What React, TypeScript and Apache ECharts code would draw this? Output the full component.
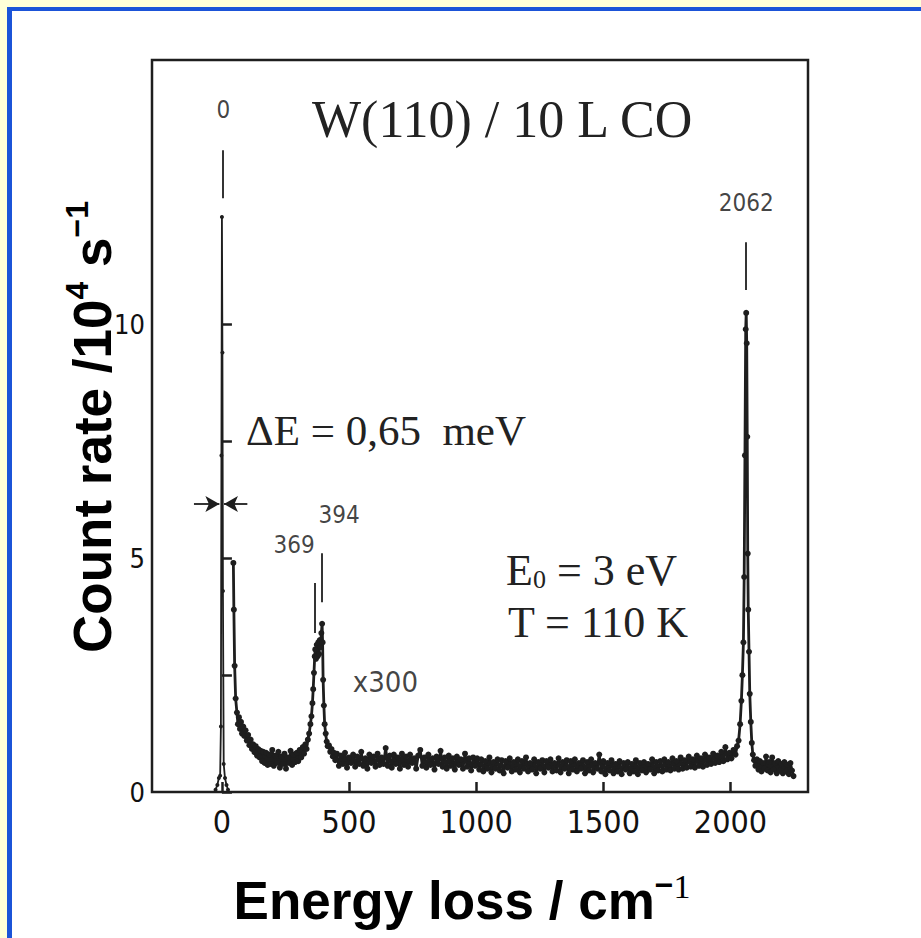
import React, { useEffect, useRef } from "react";
import * as echarts from "echarts";

// Elastic peak (unscaled)
const elasticPoints: [number, number][] = [
  [-25, 0.05], [-18, 0.15], [-12, 0.3], [-7, 0.35], [-4, 1.4], [-2, 7.2], [0, 12.3],
  [2, 9.4], [4, 4.3], [7, 0.6], [12, 0.3], [18, 0.15], [24, 0.05],
];

// Loss spectrum (x300)
const lossDecay: [number, number][] = [
  [45, 4.9], [47, 3.9], [50, 2.7], [54, 2.0], [59, 1.7], [63, 1.45], [67, 1.6], [71, 1.35], [75, 1.5], [79, 1.25],
  [84, 1.4], [88, 1.2], [93, 1.32], [98, 1.1], [103, 1.22], [108, 1.0], [113, 1.12], [118, 0.92], [123, 1.02], [128, 0.85],
  [133, 0.98], [138, 0.78], [143, 0.92], [148, 0.74], [153, 0.88], [158, 0.66], [163, 0.86], [168, 0.62],
  [174, 0.84], [180, 0.58], [186, 0.8], [192, 0.6], [198, 0.9], [204, 0.56], [210, 0.78], [216, 0.62], [222, 0.86], [228, 0.52],
  [234, 0.76], [240, 0.6], [246, 0.82], [252, 0.5], [258, 0.74], [264, 0.62], [270, 0.88], [276, 0.58], [282, 0.8], [288, 0.64],
  [294, 0.84], [300, 0.66], [306, 0.9], [312, 0.74], [318, 0.96], [323, 0.82], [328, 1.02], [333, 0.92], [338, 1.12], [343, 1.25],
];
const lossSubstrate: [number, number][] = [
  [348, 1.45], [352, 1.62], [356, 1.9], [359, 2.2], [362, 2.55], [365, 2.9], [367, 3.05], [370, 2.85], [373, 3.15], [376, 2.9],
  [379, 3.2], [382, 2.95], [385, 3.25], [388, 3.1], [391, 3.4], [394, 3.6], [396, 3.2], [398, 2.4], [401, 1.85], [404, 1.45],
  [408, 1.25], [412, 1.08], [416, 0.98], [421, 1.0], [426, 0.86], [431, 0.92], [436, 0.76], [441, 0.84], [446, 0.68],
];
const lossMid: [number, number][] = [
  [452, 0.82], [460, 0.56], [468, 0.78], [476, 0.6], [484, 0.84], [492, 0.52], [500, 0.74], [508, 0.62], [516, 0.8], [524, 0.54],
  [532, 0.76], [540, 0.6], [548, 0.86], [556, 0.56], [564, 0.72], [572, 0.5], [580, 0.8], [588, 0.62], [596, 0.76], [604, 0.54],
  [612, 0.82], [620, 0.58], [628, 0.74], [636, 0.6], [644, 0.94], [652, 0.56], [660, 0.78], [668, 0.52], [676, 0.8], [684, 0.6],
  [692, 0.74], [700, 0.5], [708, 0.82], [716, 0.58], [724, 0.76], [732, 0.54], [740, 0.8], [748, 0.62], [756, 0.72], [764, 0.5],
  [772, 0.78], [780, 0.9], [788, 0.56], [796, 0.74], [804, 0.52], [812, 0.8], [820, 0.58], [828, 0.72], [836, 0.48], [844, 0.76],
  [852, 0.6], [860, 0.88], [868, 0.54], [876, 0.74], [884, 0.5], [892, 0.78], [900, 0.56], [908, 0.72], [916, 0.48], [924, 0.76],
  [932, 0.58], [940, 0.7], [948, 0.5], [956, 0.82], [964, 0.54], [972, 0.72], [980, 0.46], [988, 0.74], [996, 0.56],
];
const lossHigh: [number, number][] = [
  [1004, 0.72], [1012, 0.48], [1020, 0.7], [1028, 0.44], [1036, 0.66], [1044, 0.5], [1052, 0.74], [1060, 0.42], [1068, 0.64], [1076, 0.5],
  [1084, 0.7], [1092, 0.46], [1100, 0.68], [1108, 0.4], [1116, 0.66], [1124, 0.52], [1132, 0.72], [1140, 0.44], [1148, 0.64], [1156, 0.48],
  [1164, 0.7], [1172, 0.42], [1180, 0.66], [1188, 0.5], [1196, 0.74], [1204, 0.44], [1212, 0.62], [1220, 0.48], [1228, 0.7], [1236, 0.4],
  [1244, 0.64], [1252, 0.5], [1260, 0.68], [1268, 0.42], [1276, 0.66], [1284, 0.52], [1292, 0.7], [1300, 0.44], [1308, 0.62], [1316, 0.46],
  [1324, 0.72], [1332, 0.42], [1340, 0.64], [1348, 0.5], [1356, 0.68], [1364, 0.4], [1372, 0.66], [1380, 0.48], [1388, 0.7], [1396, 0.44],
  [1404, 0.62], [1412, 0.5], [1420, 0.68], [1428, 0.4], [1436, 0.64], [1444, 0.46], [1452, 0.7], [1460, 0.42], [1468, 0.62], [1476, 0.5],
  [1484, 0.8], [1492, 0.44], [1500, 0.66], [1508, 0.38], [1516, 0.62], [1524, 0.46], [1532, 0.68], [1540, 0.4], [1548, 0.6], [1556, 0.44],
  [1564, 0.66], [1572, 0.38], [1580, 0.62], [1588, 0.48], [1596, 0.64], [1604, 0.4], [1612, 0.6], [1620, 0.44], [1628, 0.68], [1636, 0.38],
  [1644, 0.62], [1652, 0.46], [1660, 0.64], [1668, 0.42], [1676, 0.6], [1684, 0.48], [1692, 0.7], [1700, 0.4], [1708, 0.64], [1716, 0.46],
  [1724, 0.66], [1732, 0.44], [1740, 0.7], [1748, 0.48], [1756, 0.64], [1764, 0.46], [1772, 0.72], [1780, 0.5], [1788, 0.66], [1796, 0.48],
  [1804, 0.74], [1812, 0.5], [1820, 0.68], [1828, 0.52], [1836, 0.76], [1844, 0.54], [1852, 0.7], [1860, 0.52], [1868, 0.78], [1876, 0.56],
  [1884, 0.72], [1892, 0.54], [1900, 0.8], [1908, 0.58], [1916, 0.74], [1924, 0.6], [1932, 0.82], [1940, 0.62], [1948, 0.78], [1956, 0.64],
  [1964, 0.86], [1972, 0.66], [1980, 0.96], [1988, 0.7], [1996, 0.84], [2004, 0.72], [2012, 0.9], [2020, 0.8],
];
const lossCO: [number, number][] = [
  [2026, 0.98], [2032, 1.1], [2038, 1.45], [2043, 1.95], [2047, 2.5], [2051, 3.2], [2054, 4.6], [2057, 7.2], [2060, 9.9], [2062, 10.25],
  [2064, 9.6], [2066, 7.6], [2068, 5.1], [2070, 3.9], [2073, 3.0], [2076, 2.1], [2080, 1.5], [2084, 1.05], [2088, 0.8], [2093, 0.68],
  [2098, 0.56], [2104, 0.7], [2110, 0.48], [2116, 0.66], [2122, 0.44], [2128, 0.62], [2134, 0.5], [2140, 0.76], [2146, 0.46], [2152, 0.64],
  [2158, 0.42], [2164, 0.74], [2170, 0.48], [2176, 0.62], [2182, 0.4], [2188, 0.66], [2194, 0.46], [2200, 0.6], [2206, 0.4], [2212, 0.64],
  [2218, 0.44], [2224, 0.58], [2230, 0.38], [2236, 0.62], [2242, 0.46], [2248, 0.34],
];

const xTicks = [0, 500, 1000, 1500, 2000];
const yTicks = [0, 2.5, 5, 7.5, 10];
const yLabels = [0, 5, 10];

// Peak annotations: label text, label position and marker segment (data units)
const peakNames = ["0", "369", "394", "2062"];
const peakLabelPos: [number, number][] = [[6, 14.59], [284, 5.28], [461, 5.93], [2062, 12.6]];
const peakMarkers: [number, number, number][] = [[2, 12.7, 13.73], [367, 3.4, 4.47], [391, 4.06, 5.11], [2062, 10.74, 11.76]];

const INK = "#1e1e1e";
const DIN = "'Liberation Sans Narrow', 'DejaVu Sans Condensed', 'DejaVu Sans', sans-serif";
const SERIF = "'Liberation Serif', 'DejaVu Serif', serif";
const SANS = "'Liberation Sans', Arial, sans-serif";

export default function App() {
  const ref = useRef<HTMLDivElement>(null);
  useEffect(() => {
    document.body.style.margin = "0";
    if (!ref.current) return;
    const chart = echarts.init(ref.current, null, { renderer: "svg" });
    const lossPoints = [...lossDecay, ...lossSubstrate, ...lossMid, ...lossHigh, ...lossCO];
    const option: any = {
      animation: false,
      backgroundColor: "#ffffff",
      grid: { left: 152, right: 113, top: 60, bottom: 146, show: true, borderColor: INK, borderWidth: 2.5, backgroundColor: "transparent" },
      xAxis: {
        type: "value", min: -275, max: 2305,
        axisLine: { show: false },
        splitLine: { show: false },
        axisTick: { show: true, inside: true, length: 10, customValues: xTicks, lineStyle: { color: INK, width: 2.5 } },
        axisLabel: { customValues: xTicks, margin: 14, color: "#111", fontFamily: DIN, fontSize: 32, formatter: (v: number) => String(v) },
      },
      yAxis: {
        type: "value", min: 0, max: 15.66,
        axisLine: { show: false },
        splitLine: { show: false },
        axisTick: { show: true, inside: true, length: 10, customValues: yTicks, lineStyle: { color: INK, width: 2.5 } },
        axisLabel: { customValues: yLabels, margin: 7, color: "#111", fontFamily: DIN, fontSize: 27, formatter: (v: number) => String(v) },
      },
      graphic: [
        { type: "rect", shape: { x: 0, y: 0, width: 921, height: 7 }, style: { fill: "#ffffd8" }, z: -1 },
        { type: "rect", shape: { x: 0, y: 0, width: 7, height: 938 }, style: { fill: "#ffffd8" }, z: -1 },
        { type: "rect", shape: { x: 7, y: 7, width: 914, height: 4 }, style: { fill: "#1b54d8" }, z: -1 },
        { type: "rect", shape: { x: 7, y: 7, width: 5, height: 931 }, style: { fill: "#1b54d8" }, z: -1 },
        {
          type: "text", x: 312, y: 119,
          style: { text: "W(110) / 10 L CO", font: `52px ${SERIF}`, fill: "#222", textAlign: "left", textVerticalAlign: "middle" },
        },
        {
          type: "text", x: 246, y: 430,
          style: { text: "ΔE = 0,65  meV", font: `43px ${SERIF}`, fill: "#222", textAlign: "left", textVerticalAlign: "middle" },
        },
        {
          type: "text", x: 506, y: 570,
          style: {
            text: "{a|E}{sub|0}{a| = 3 eV}", textAlign: "left", textVerticalAlign: "middle",
            rich: {
              a: { fontFamily: SERIF, fontSize: 44, lineHeight: 44, fill: "#222" },
              sub: { fontFamily: SERIF, fontSize: 26, lineHeight: 22, verticalAlign: "bottom", fill: "#222" },
            },
          },
        },
        {
          type: "text", x: 508, y: 622,
          style: { text: "T = 110 K", font: `44px ${SERIF}`, fill: "#222", textAlign: "left", textVerticalAlign: "middle" },
        },
        {
          type: "text", x: 92, y: 427, rotation: Math.PI / 2,
          style: {
            text: "{a|Count rate /10}{s|4}{a| s}{s|−1}", textAlign: "center", textVerticalAlign: "middle",
            rich: {
              a: { fontFamily: SANS, fontWeight: "bold", fontSize: 53, lineHeight: 62, fill: "#000" },
              s: { fontFamily: SANS, fontWeight: "bold", fontSize: 32, lineHeight: 36, verticalAlign: "top", fill: "#000" },
            },
          },
        },
        {
          type: "text", x: 462, y: 900,
          style: {
            text: "{a|Energy loss / cm}{s|−}{n|1}", textAlign: "center", textVerticalAlign: "middle",
            rich: {
              a: { fontFamily: SANS, fontWeight: "bold", fontSize: 53, lineHeight: 62, fill: "#000" },
              s: { fontFamily: SANS, fontWeight: "bold", fontSize: 32, lineHeight: 36, verticalAlign: "top", fill: "#000" },
              n: { fontFamily: SERIF, fontSize: 34, lineHeight: 38, verticalAlign: "top", fill: "#000" },
            },
          },
        },
      ],
      series: [
        {
          name: "elastic", type: "line", data: elasticPoints,
          symbol: "circle", symbolSize: 4, showSymbol: true,
          lineStyle: { color: INK, width: 1.8 }, itemStyle: { color: INK },
        },
        {
          name: "x300", type: "line", data: lossPoints,
          symbol: "circle", symbolSize: 6, showSymbol: true,
          lineStyle: { color: INK, width: 2.8 }, itemStyle: { color: INK },
        },
        {
          name: "markers", type: "line", data: [],
          markLine: {
            silent: true, animation: false, symbol: ["none", "none"],
            label: { show: false },
            lineStyle: { color: INK, width: 1.8, type: "solid" },
            data: peakMarkers.map(([x, y0, y1]) => [{ coord: [x, y0] }, { coord: [x, y1] }]),
          },
        },
        {
          name: "resolution", type: "line", data: [],
          markLine: {
            silent: true, animation: false, symbol: ["none", "arrow"], symbolSize: [12, 14],
            label: { show: false },
            lineStyle: { color: INK, width: 1.8, type: "solid" },
            data: [
              [{ coord: [-110, 6.16] }, { coord: [-10, 6.16] }],
              [{ coord: [100, 6.16] }, { coord: [8, 6.16] }],
            ],
          },
        },
        {
          name: "labels", type: "scatter", symbolSize: 0,
          data: [
            ...peakNames.map((n, i) => ({ name: n, value: peakLabelPos[i] })),
          ],
          label: { show: true, position: "inside", formatter: "{b}", color: "#111", fontFamily: DIN, fontSize: 24 },
        },
        {
          name: "scale", type: "scatter", symbolSize: 0,
          data: [{ name: "x300", value: [643, 2.35] }],
          label: { show: true, position: "inside", formatter: "{b}", color: "#111", fontFamily: DIN, fontSize: 29 },
        },
      ],
    };
    chart.setOption(option);
    return () => chart.dispose();
  }, []);
  return <div ref={ref} style={{ width: 921, height: 938 }} />;
}
